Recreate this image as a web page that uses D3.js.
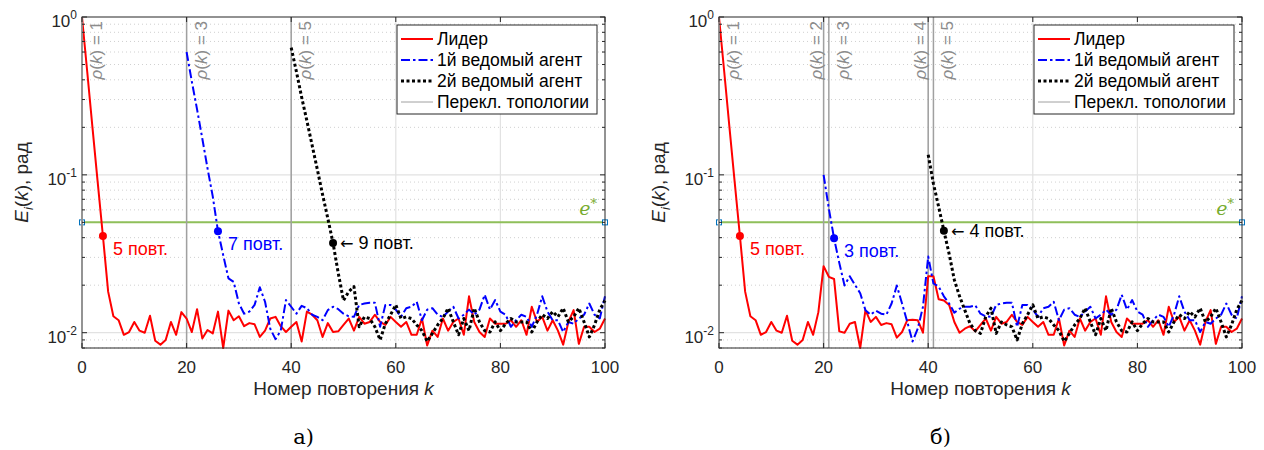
<!DOCTYPE html>
<html>
<head>
<meta charset="utf-8">
<script src="https://cdn.jsdelivr.net/npm/d3@7"></script>
<style>
body { margin: 0; background: #fff; }
text { font-family: "Liberation Sans", Arial, sans-serif; }
</style>
</head>
<body>
<script>
// ---- data ----
var eStar = 0.05;
var xTicks = [0, 20, 40, 60, 80, 100];
var yTicks = [1, 0.1, 0.01];
var yTickExp = ["0", "-1", "-2"];

// leader, k = 0..19 (same in both runs)
var leaderHead = [1.0, 0.45, 0.2, 0.09, 0.041, 0.0182, 0.0127, 0.0120, 0.0097, 0.0101,
  0.0117, 0.0103, 0.0100, 0.0128, 0.0089, 0.0084, 0.0090, 0.0117, 0.0097, 0.0135];
// leader, k = 20..48
var leaderMidA = [0.0123, 0.0101, 0.0141, 0.0092, 0.0104, 0.0099, 0.0136, 0.0080, 0.0138, 0.0120,
  0.0127, 0.0110, 0.0115, 0.0113, 0.0094, 0.0103, 0.0123, 0.0126, 0.0110, 0.0101,
  0.0109, 0.0117, 0.0088, 0.0136, 0.0130, 0.0120, 0.0094, 0.0115, 0.0101];
var leaderMidB = [0.0264, 0.0226, 0.0219, 0.0102, 0.0100, 0.0114, 0.0117, 0.0080, 0.0139, 0.0117,
  0.0126, 0.0112, 0.0115, 0.0113, 0.0093, 0.0101, 0.0120, 0.0121, 0.0120, 0.0100,
  0.0228, 0.0228, 0.0163, 0.0160, 0.0150, 0.0117, 0.0100, 0.0106, 0.0110];
// leader, k = 49..100
var leaderTail = [0.0102, 0.0112, 0.0123, 0.0103, 0.0126, 0.0114, 0.0117, 0.0130, 0.0117, 0.0112,
  0.0126, 0.0117, 0.0109, 0.0117, 0.0097, 0.0097, 0.0123, 0.0083, 0.0103, 0.0094,
  0.0123, 0.0103, 0.0117, 0.0123, 0.0097, 0.0170, 0.0117, 0.0101, 0.0094, 0.0123,
  0.0114, 0.0114, 0.0114, 0.0120, 0.0109, 0.0120, 0.0097, 0.0146, 0.0117, 0.0126,
  0.0103, 0.0120, 0.0103, 0.0084, 0.0117, 0.0139, 0.0085, 0.0109, 0.0109, 0.0101,
  0.0106, 0.0123];

// 1st follower, k = 20..49
var follower1StartA = [0.6, 0.39, 0.26, 0.17, 0.11, 0.073, 0.044, 0.031, 0.0221, 0.0210,
  0.0153, 0.0132, 0.0136, 0.0150, 0.0194, 0.0157, 0.0106, 0.0091, 0.0103, 0.0161,
  0.0146, 0.0132, 0.0148, 0.0143, 0.0130, 0.0126, 0.0120, 0.0139, 0.0146, 0.0141];
var follower1StartB = [0.100, 0.0612, 0.0396, 0.0277, 0.0199, 0.0228, 0.0201, 0.0178, 0.0139, 0.0130,
  0.0138, 0.0132, 0.0130, 0.0153, 0.0199, 0.0153, 0.0117, 0.0088, 0.0106, 0.0146,
  0.0304, 0.0205, 0.0196, 0.0170, 0.0153, 0.0134, 0.0142, 0.0146, 0.0146, 0.0149];
// 1st follower, k = 50..100
var follower1Tail = [0.0132, 0.0127, 0.0126, 0.0150, 0.0153, 0.0155, 0.0155, 0.0109, 0.0150, 0.0150,
  0.0140, 0.0126, 0.0143, 0.0146, 0.0157, 0.0120, 0.0140, 0.0143, 0.0130, 0.0126,
  0.0136, 0.0146, 0.0123, 0.0130, 0.0140, 0.0130, 0.0140, 0.0174, 0.0140, 0.0161,
  0.0136, 0.0130, 0.0109, 0.0120, 0.0130, 0.0126, 0.0109, 0.0130, 0.0170, 0.0136,
  0.0120, 0.0120, 0.0101, 0.0117, 0.0114, 0.0123, 0.0130, 0.0153, 0.0130, 0.0123,
  0.0170];

// 2nd follower, k = 40..55
var follower2StartA = [0.64, 0.45, 0.31, 0.22, 0.154, 0.108, 0.075, 0.053, 0.037, 0.0238,
  0.0160, 0.0182, 0.0196, 0.0109, 0.0126, 0.0123];
var follower2StartB = [0.134, 0.088, 0.0627, 0.0443, 0.0316, 0.0216, 0.0170, 0.0139, 0.0114, 0.0103,
  0.0099, 0.0126, 0.0143, 0.0099, 0.0117, 0.0112];
// 2nd follower, k = 56..100
var follower2Tail = [0.0109, 0.0090, 0.0114, 0.0130, 0.0150, 0.0123, 0.0126, 0.0123, 0.0112, 0.0103,
  0.0088, 0.0099, 0.0112, 0.0123, 0.0143, 0.0117, 0.0097, 0.0123, 0.0103, 0.0143,
  0.0117, 0.0103, 0.0101, 0.0117, 0.0103, 0.0114, 0.0123, 0.0117, 0.0117, 0.0117,
  0.0101, 0.0117, 0.0130, 0.0123, 0.0136, 0.0126, 0.0143, 0.0117, 0.0126, 0.0143,
  0.0117, 0.0094, 0.0112, 0.0140, 0.0160];

var legendLabels = ["Лидер", "1й ведомый агент", "2й ведомый агент", "Перекл. топологии"];

var panels = [
  {
    left: 82, name: "а)",
    leader: leaderHead.concat(leaderMidA, leaderTail),
    f1: follower1StartA.concat(follower1Tail),
    f2: follower2StartA.concat(follower2Tail),
    switches: [0, 20, 40], rho: [1, 3, 5], rhoLeft: [false, false, false],
    marks: [4, 26, 48], counts: ["5 повт.", "7 повт.", "9 повт."]
  },
  {
    left: 719, name: "б)",
    leader: leaderHead.concat(leaderMidB, leaderTail),
    f1: follower1StartB.concat(follower1Tail),
    f2: follower2StartB.concat(follower2Tail),
    switches: [0, 20, 21, 40, 41], rho: [1, 2, 3, 4, 5],
    rhoLeft: [false, true, false, true, false],
    marks: [4, 22, 43], counts: ["5 повт.", "3 повт.", "4 повт."]
  }
];

// ---- drawing ----
var W = 1264, H = 450;
var plotW = 523, plotTop = 17, plotBottom = 348;
var colors = ["#ff0000", "#0000ff", "#000000"];
var dashes = [null, "9,3,2.5,3", "3,2.5"];
var widths = [2, 2, 3];
var starts = [0, 20, 40];

var svg = d3.select("body").append("svg")
  .attr("width", W).attr("height", H);

var y = d3.scaleLog().domain([0.008, 1]).range([plotBottom, plotTop]);
var minorVals = [];
[0.001, 0.01, 0.1].forEach(function(d) {
  for (var m = 2; m <= 9; m++) minorVals.push(d * m);
});
minorVals = minorVals.filter(function(v) { return v >= 0.0079 && v < 1; });

panels.forEach(function(p) {
  var x = d3.scaleLinear().domain([0, 100]).range([p.left, p.left + plotW]);
  var g = svg.append("g");

  // minor grid (dotted)
  g.selectAll(".minor").data(minorVals).enter().append("line")
    .attr("x1", p.left).attr("x2", p.left + plotW)
    .attr("y1", d => y(d)).attr("y2", d => y(d))
    .attr("stroke", "#c4c4c4").attr("stroke-width", 0.8)
    .attr("stroke-dasharray", "1,3");
  // major grid
  g.selectAll(".gy").data([0.1, 0.01]).enter().append("line")
    .attr("x1", p.left).attr("x2", p.left + plotW)
    .attr("y1", d => y(d)).attr("y2", d => y(d))
    .attr("stroke", "#e2e2e2").attr("stroke-width", 1.2);
  g.selectAll(".gx").data(xTicks.slice(1, -1)).enter().append("line")
    .attr("x1", d => x(d)).attr("x2", d => x(d))
    .attr("y1", plotTop).attr("y2", plotBottom)
    .attr("stroke", "#e2e2e2").attr("stroke-width", 1.2);

  // e* threshold
  g.append("line")
    .attr("x1", x(0)).attr("x2", x(100))
    .attr("y1", y(eStar)).attr("y2", y(eStar))
    .attr("stroke", "#8fbf5a").attr("stroke-width", 2);
  g.selectAll(".esq").data([0, 100]).enter().append("rect")
    .attr("x", d => x(d) - 2.5).attr("y", y(eStar) - 2.5)
    .attr("width", 5).attr("height", 5)
    .attr("fill", "#fff").attr("stroke", "#0072BD").attr("stroke-width", 1);
  var et = g.append("text")
    .attr("x", x(100) - 8).attr("y", y(eStar) - 7)
    .attr("text-anchor", "end").attr("fill", "#77AC30")
    .style("font-size", "19px").style("font-style", "italic")
    .style("font-family", "'DejaVu Serif', serif");
  et.append("tspan").text("e");
  et.append("tspan").attr("dy", -7).style("font-size", "13px").text("*");

  // topology switches
  g.selectAll(".sw").data(p.switches).enter().append("line")
    .attr("x1", d => x(d)).attr("x2", d => x(d))
    .attr("y1", plotTop).attr("y2", plotBottom)
    .attr("stroke", "#a0a0a0").attr("stroke-width", 1.5);
  p.switches.forEach(function(s, i) {
    var bx = p.rhoLeft[i] ? x(s) - 2 : x(s) + 20;
    var t = g.append("text")
      .attr("transform", "translate(" + bx + "," + 21 + ") rotate(-90)")
      .attr("text-anchor", "end").attr("fill", "#8c8c8c")
      .style("font-size", "17px");
    t.append("tspan").style("font-style", "italic").text("ρ");
    t.append("tspan").text("(");
    t.append("tspan").style("font-style", "italic").text("k");
    t.append("tspan").text(") = " + p.rho[i]);
  });

  // series
  var line = d3.line().x(d => x(d.k)).y(d => y(d.v));
  [p.leader, p.f1, p.f2].forEach(function(vals, si) {
    var pts = vals.map(function(v, i) { return { k: starts[si] + i, v: v }; });
    g.append("path").datum(pts)
      .attr("d", line).attr("fill", "none")
      .attr("stroke", colors[si]).attr("stroke-width", widths[si])
      .attr("stroke-linejoin", "round")
      .attr("stroke-dasharray", dashes[si]);
  });
  [p.leader, p.f1, p.f2].forEach(function(vals, si) {
    var mk = p.marks[si];
    var mv = vals[mk - starts[si]];
    g.append("circle").attr("cx", x(mk)).attr("cy", y(mv)).attr("r", 4)
      .attr("fill", colors[si]);
    var arrow = si == 2;
    var t = g.append("text")
      .attr("x", x(mk) + (arrow ? 7 : 10))
      .attr("y", y(mv) + (arrow ? 6 : 19))
      .attr("fill", colors[si]).style("font-size", "18px");
    if (arrow) {
      t.append("tspan").style("font-family", "'DejaVu Sans', sans-serif")
        .style("font-size", "16px").text("← ");
    }
    t.append("tspan").text(p.counts[si]);
  });

  // frame
  g.append("rect").attr("x", p.left).attr("y", plotTop)
    .attr("width", plotW).attr("height", plotBottom - plotTop)
    .attr("fill", "none").attr("stroke", "#262626").attr("stroke-width", 1);
  // left axis overdrawn by switch at k = 0
  g.append("line").attr("x1", x(0)).attr("x2", x(0)).attr("y1", plotTop).attr("y2", plotBottom)
    .attr("stroke", "#a0a0a0").attr("stroke-width", 1.5);

  // ticks
  xTicks.forEach(function(t) {
    g.append("line").attr("x1", x(t)).attr("x2", x(t)).attr("y1", plotBottom).attr("y2", plotBottom - 5)
      .attr("stroke", "#262626");
    g.append("line").attr("x1", x(t)).attr("x2", x(t)).attr("y1", plotTop).attr("y2", plotTop + 5)
      .attr("stroke", "#262626");
    g.append("text").attr("x", x(t)).attr("y", plotBottom + 25)
      .attr("text-anchor", "middle").attr("fill", "#262626")
      .style("font-size", "17px").text(t);
  });
  minorVals.concat(yTicks).forEach(function(v) {
    var len = yTicks.indexOf(v) >= 0 ? 5 : 3;
    [p.left, p.left + plotW].forEach(function(xx, j) {
      var dir = j == 0 ? 1 : -1;
      g.append("line").attr("x1", xx).attr("x2", xx + dir * len)
        .attr("y1", y(v)).attr("y2", y(v)).attr("stroke", "#262626");
    });
  });
  yTicks.forEach(function(v, i) {
    var t = g.append("text").attr("x", p.left - 5).attr("y", y(v) + 10)
      .attr("text-anchor", "end").attr("fill", "#262626").style("font-size", "17px");
    t.append("tspan").text("10");
    t.append("tspan").attr("dy", -8).style("font-size", "12px").text(yTickExp[i]);
  });

  // axis labels
  var xl = g.append("text").attr("x", p.left + plotW / 2).attr("y", plotBottom + 47)
    .attr("text-anchor", "middle").attr("fill", "#262626").style("font-size", "19px");
  xl.append("tspan").text("Номер повторения ");
  xl.append("tspan").style("font-style", "italic").text("k");

  var yl = g.append("text")
    .attr("transform", "translate(" + (p.left - 54) + "," + ((plotTop + plotBottom) / 2) + ") rotate(-90)")
    .attr("text-anchor", "middle").attr("fill", "#262626").style("font-size", "19px");
  yl.append("tspan").style("font-style", "italic").text("E");
  yl.append("tspan").style("font-style", "italic").style("font-size", "13px").attr("dy", 5).text("i");
  yl.append("tspan").attr("dy", -5).text("(");
  yl.append("tspan").style("font-style", "italic").text("k");
  yl.append("tspan").text("), рад");

  // legend
  var lx = p.left + plotW - 208, ly = 25;
  var lg = g.append("g");
  lg.append("rect").attr("x", lx).attr("y", ly).attr("width", 200).attr("height", 89)
    .attr("fill", "#fff").attr("stroke", "#262626").attr("stroke-width", 1);
  legendLabels.forEach(function(lab, i) {
    var cy = ly + 14 + i * 21;
    lg.append("line").attr("x1", lx + 4).attr("x2", lx + 36).attr("y1", cy).attr("y2", cy)
      .attr("stroke", i < 3 ? colors[i] : "#a0a0a0")
      .attr("stroke-width", i < 3 ? widths[i] : 1)
      .attr("stroke-dasharray", i < 3 ? dashes[i] : null);
    lg.append("text").attr("x", lx + 40).attr("y", cy + 6)
      .attr("fill", "#000").style("font-size", "17.5px").text(lab);
  });

  // panel label
  svg.append("text").attr("x", p.left + plotW / 2 - 40).attr("y", 444)
    .attr("text-anchor", "middle").style("font-size", "21px")
    .style("font-family", "'DejaVu Serif', 'Liberation Serif', serif")
    .text(p.name);
});
</script>
</body>
</html>
